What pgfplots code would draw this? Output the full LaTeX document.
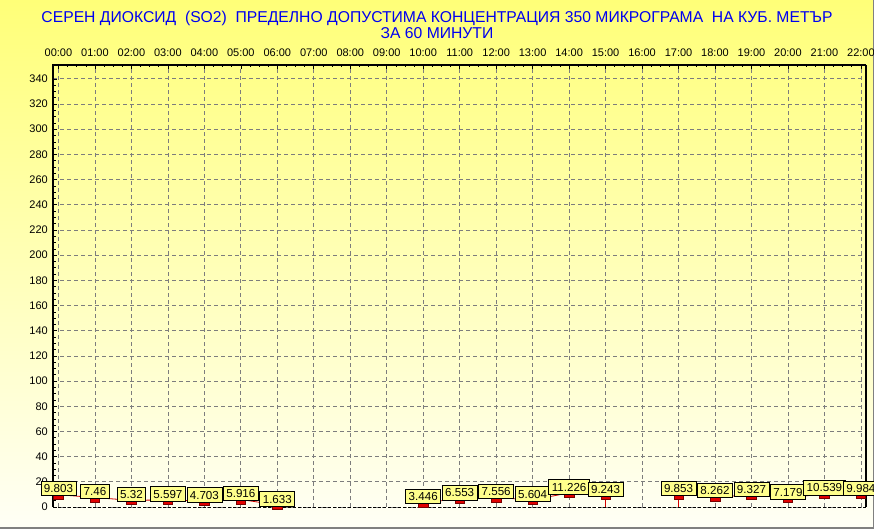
\documentclass[border=0pt]{standalone}
\usepackage{fontspec}
\setmainfont{Liberation Sans}
\usepackage{pgfplots}
\pgfplotsset{compat=1.18}
\definecolor{bgtop}{RGB}{255,255,120}
\definecolor{bgbot}{RGB}{255,255,246}
\definecolor{titleblue}{RGB}{0,0,240}
\definecolor{lblyellow}{RGB}{255,255,140}
\definecolor{markred}{RGB}{225,0,0}
\definecolor{markedge}{RGB}{120,0,0}
\definecolor{linered}{RGB}{210,0,0}
\definecolor{gridgray}{RGB}{125,125,125}

\pgfplotsset{
  so2/.style={
    linered, line width=0.8pt,
    mark=square*, mark size=2.8pt,
    mark options={xscale=1.7, fill=markred, draw=markedge, line width=0.5pt, yshift=-1.5pt, solid},
    point meta=explicit symbolic,
    nodes near coords,
    every node near coord/.append style={
      anchor=south, fill=lblyellow, draw=black, line width=0.7pt,
      inner xsep=3pt, inner ysep=3pt, text height=8.5pt, text depth=0pt,
      font=\fontsize{11.6}{12}\selectfont, text=black},
  },
}

\begin{document}
\begin{tikzpicture}[x=1pt,y=1pt]
\shade[top color=bgtop, bottom color=bgbot] (0,0) rectangle (874,529);
\draw[gray, line width=1.5pt] (0,0.75) -- (873.25,0.75) -- (873.25,529);
\node[anchor=base, font=\fontsize{15.7}{16}\selectfont, text=titleblue, inner sep=0pt] at (437,506)
  {СЕРЕН ДИОКСИД\ \ (SO2)\ \ ПРЕДЕЛНО ДОПУСТИМА КОНЦЕНТРАЦИЯ 350 МИКРОГРАМА\ \ НА КУБ. МЕТЪР};
\node[anchor=base, font=\fontsize{15.7}{16}\selectfont, text=titleblue, inner sep=0pt] at (437,490)
  {ЗА 60 МИНУТИ};

\begin{axis}[
  at={(53pt,22pt)}, anchor=south west,
  scale only axis, width=813pt, height=442pt,
  xmin=-0.15, xmax=22.14, ymin=0, ymax=351,
  clip=false,
  axis line style={draw=none},
  xtick={0,...,22},
  xticklabels={00:00,01:00,02:00,03:00,04:00,05:00,06:00,07:00,08:00,09:00,10:00,11:00,12:00,13:00,14:00,15:00,16:00,17:00,18:00,19:00,20:00,21:00,22:00},
  xtick pos=right, xticklabel pos=right,
  ytick={0,20,...,340},
  ytick pos=left, yticklabel pos=left,
  minor y tick num=3,
  minor x tick num=3,
  tick align=inside,
  major tick length=4pt, minor tick length=2.5pt,
  tick style={black, line width=0.6pt},
  grid=major,
  major grid style={gridgray, line width=0.7pt, dash pattern=on 4pt off 3pt},
  ticklabel style={font=\fontsize{11}{11}\selectfont, inner sep=0pt},
  /pgf/number format/assume math mode=true,
  x tick label style={text depth=0pt, yshift=8pt},
  y tick label style={xshift=-5pt},
]
\addplot[linered, line width=0.8pt, ycomb, no marks, forget plot] coordinates {
  (6,1.633) (10,3.446) (15,9.243) (17,9.853)
};
\addplot[so2] table[meta=lab] {
x y lab
0 9.803 9.803
1 7.46 7.46
2 5.32 5.32
3 5.597 5.597
4 4.703 4.703
5 5.916 5.916
6 1.633 1.633
};
\addplot[so2] table[meta=lab] {
x y lab
10 3.446 3.446
11 6.553 6.553
12 7.556 7.556
13 5.604 5.604
14 11.226 11.226
15 9.243 9.243
};
\addplot[so2] table[meta=lab] {
x y lab
17 9.853 9.853
18 8.262 8.262
19 9.327 9.327
20 7.179 7.179
21 10.539 10.539
22 9.984 9.984
};
\draw[black, line width=2.5pt] (rel axis cs:0,0) -- (rel axis cs:0,1) -- (rel axis cs:1,1);
\draw[black, line width=1.5pt] (rel axis cs:1,1) -- (rel axis cs:1,0);
\draw[black, line width=0.8pt, dash pattern=on 3pt off 2pt] (rel axis cs:0,0) -- (rel axis cs:1,0);
\end{axis}
\pgfresetboundingbox
\useasboundingbox (0,0) rectangle (874,529);
\end{tikzpicture}
\end{document}
